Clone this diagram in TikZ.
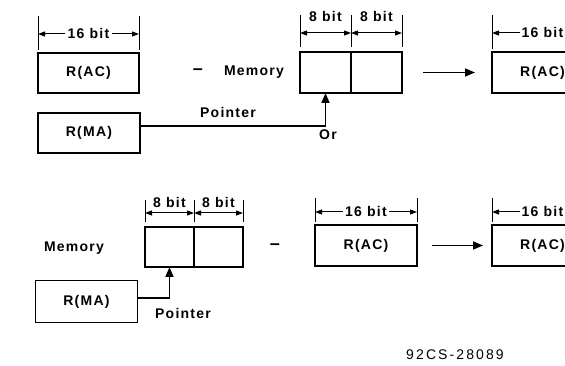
\documentclass[tikz,border=0pt]{standalone}
\usepackage{fontspec}
\setmainfont{Liberation Sans}
\newfontfamily\lblfont[LetterSpace=9]{Liberation Sans}
\newfontfamily\codefont[LetterSpace=15]{Liberation Sans}
\usetikzlibrary{arrows.meta,positioning,calc}

\begin{document}
\begin{tikzpicture}[x=1pt, y=1pt,
  reg/.style={draw, line width=1.5pt, outer sep=0pt, minimum width=101pt,
              minimum height=40pt, font=\lblfont\bfseries\fontsize{14}{16}\selectfont},
  membox/.style={draw, line width=1.5pt, outer sep=0pt, minimum width=51pt,
                 minimum height=41pt},
  txt/.style={font=\lblfont\bfseries\fontsize{14}{16}\selectfont, inner sep=1pt},
  dimtxt/.style={txt, inner sep=2pt},
  dimtick/.style={line width=1pt},
  dimarr/.style={{Triangle[length=7pt,width=5pt]}-{Triangle[length=7pt,width=5pt]}, line width=1pt},
  halfarr/.style={-{Triangle[length=7pt,width=5pt]}, line width=1pt},
  arr/.style={-{Triangle[length=10pt,width=8pt]}, line width=1.5pt}
]
  \clip (0,0) rectangle (565,366);

  % upper case: R(AC) - Memory -> R(AC)
  \node[reg] (ac1) at (88.5,293) {R(AC)};
  \node[reg, minimum width=102pt] (ma1) at (89,233) {R(MA)};
  \node[txt, font=\bfseries\fontsize{18}{18}\selectfont] (minus1) at (198,294) {\textendash};
  \node[txt] (mem1) at (254,294) {Memory};
  \node[membox] (mem1a) at (325.5,293.5) {};
  \node[membox, right=0pt of mem1a] (mem1b) {};
  \node[reg, minimum height=41pt] (ac2) at (542.5,293.5) {R(AC)};
  \node[txt] (ptr1) at (228,253) {Pointer};
  \node[txt] (or) at (328,231) {Or};

  \draw[arr, shorten <=21pt, shorten >=17pt] (mem1b.east) -- (ac2.west);
  \draw[arr] ([yshift=7pt]ma1.east) -| (mem1a.south);

  \draw[dimtick] ($(ac1.north west)+(0,3)$) -- ++(0,34);
  \draw[dimtick] ($(ac1.north east)+(0,3)$) -- ++(0,34);
  \node[dimtxt] (d1) at ($(ac1.north)+(0,19)$) {16 bit};
  \draw[halfarr] (d1.west) -- (d1.west -| ac1.west);
  \draw[halfarr] (d1.east) -- (d1.east -| ac1.east);

  \draw[dimtick] ($(mem1a.north west)+(0,5)$) -- ++(0,32);
  \draw[dimtick] ($(mem1a.north east)+(0,5)$) -- ++(0,32);
  \draw[dimtick] ($(mem1b.north east)+(0,5)$) -- ++(0,32);
  \draw[dimarr] ($(mem1a.north west)+(0,19)$) -- ($(mem1a.north east)+(0,19)$);
  \draw[dimarr] ($(mem1b.north west)+(0,19)$) -- ($(mem1b.north east)+(0,19)$);
  \node[dimtxt] (b1) at ($(mem1a.north)+(0,35)$) {8 bit};
  \node[dimtxt] (b2) at ($(mem1b.north)+(0,35)$) {8 bit};

  \draw[dimtick] ($(ac2.north west)+(0,3)$) -- ++(0,34);
  \node[dimtxt] (d2) at ($(ac2.north)+(0,19)$) {16 bit};
  \draw[halfarr] (d2.west) -- (d2.west -| ac2.west);

  % lower case: Memory - R(AC) -> R(AC)
  \node[txt] (mem2) at (74,118) {Memory};
  \node[membox, minimum width=49pt, minimum height=40pt] (mem2a) at (169.5,119) {};
  \node[membox, minimum width=49pt, minimum height=40pt, right=0pt of mem2a] (mem2b) {};
  \node[reg, minimum width=102pt, minimum height=42pt] (ma2) at (86.5,64.5) {R(MA)};
  \node[txt] (ptr2) at (183,53) {Pointer};
  \node[txt, font=\bfseries\fontsize{18}{18}\selectfont] (minus2) at (275,119) {\textendash};
  \node[reg, minimum width=102pt, minimum height=41pt] (ac3) at (366,120.5) {R(AC)};
  \node[reg, minimum height=41pt] (ac4) at (542.5,120.5) {R(AC)};

  \draw[arr, shorten <=15pt, shorten >=9pt] (ac3.east) -- (ac4.west);
  \draw[arr] ([yshift=3.5pt]ma2.east) -| (mem2a.south);

  \draw[dimtick] ($(mem2a.north west)+(0,5)$) -- ++(0,22);
  \draw[dimtick] ($(mem2a.north east)+(0,5)$) -- ++(0,22);
  \draw[dimtick] ($(mem2b.north east)+(0,5)$) -- ++(0,22);
  \draw[dimarr] ($(mem2a.north west)+(0,14)$) -- ($(mem2a.north east)+(0,14)$);
  \draw[dimarr] ($(mem2b.north west)+(0,14)$) -- ($(mem2b.north east)+(0,14)$);
  \node[dimtxt] (b3) at ($(mem2a.north)+(0,24)$) {8 bit};
  \node[dimtxt] (b4) at ($(mem2b.north)+(0,24)$) {8 bit};

  \draw[dimtick] ($(ac3.north west)+(0,3)$) -- ++(0,24);
  \draw[dimtick] ($(ac3.north east)+(0,3)$) -- ++(0,24);
  \node[dimtxt] (d3) at ($(ac3.north)+(0,13)$) {16 bit};
  \draw[halfarr] (d3.west) -- (d3.west -| ac3.west);
  \draw[halfarr] (d3.east) -- (d3.east -| ac3.east);

  \draw[dimtick] ($(ac4.north west)+(0,3)$) -- ++(0,24);
  \node[dimtxt] (d4) at ($(ac4.north)+(0,13)$) {16 bit};
  \draw[halfarr] (d4.west) -- (d4.west -| ac4.west);

  \node[font=\codefont\fontsize{14}{16}\selectfont] (fig) at (455,11) {92CS-28089};
\end{tikzpicture}
\end{document}
